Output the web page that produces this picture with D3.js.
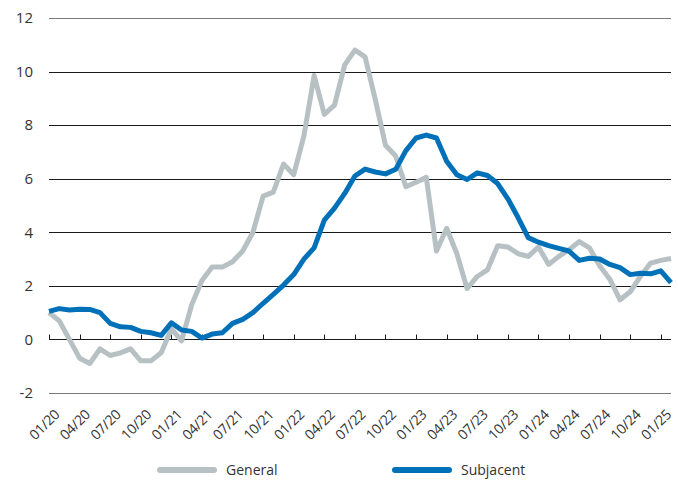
<!DOCTYPE html>
<html>
<head>
<meta charset="utf-8">
<script src="https://cdn.jsdelivr.net/npm/d3@7"></script>
<style>
  body { margin: 0; background: #fff; }
  svg text { font-family: "Open Sans", sans-serif; fill: #333; }
</style>
</head>
<body>
<div id="chart"></div>
<script>
// 1: DATA (monthly, 01/20 .. 02/25)
const months = [];
for (let y = 20; y <= 25; y++) {
    for (let m = 1; m <= 12; m++) {
        if (y === 25 && m > 2) break;
        months.push(String(m).padStart(2, "0") + "/" + y);
    }
}

const general = [
    1.0, 0.7, 0.0, -0.7, -0.9, -0.35, -0.6, -0.5, -0.35, -0.8, -0.8, -0.5,
    0.4, -0.05, 1.3, 2.2, 2.7, 2.7, 2.9, 3.3, 4.0, 5.35, 5.5, 6.55,
    6.15, 7.6, 9.85, 8.4, 8.75, 10.25, 10.8, 10.55, 8.95, 7.25, 6.85, 5.7,
    5.87, 6.05, 3.3, 4.15, 3.2, 1.9, 2.35, 2.6, 3.5, 3.45, 3.2, 3.1,
    3.45, 2.8, 3.1, 3.35, 3.65, 3.42, 2.75, 2.25, 1.48, 1.78, 2.35, 2.85,
    2.95, 3.02
];

const subjacent = [
    1.05, 1.15, 1.1, 1.13, 1.12, 1.0, 0.6, 0.47, 0.45, 0.3, 0.25, 0.15,
    0.62, 0.35, 0.3, 0.05, 0.2, 0.25, 0.6, 0.75, 1.0, 1.35, 1.68, 2.03,
    2.42, 3.0, 3.42, 4.45, 4.9, 5.45, 6.1, 6.36, 6.25, 6.18, 6.35, 7.05,
    7.52, 7.63, 7.52, 6.65, 6.15, 5.97, 6.22, 6.12, 5.82, 5.25, 4.55, 3.8,
    3.63, 3.5, 3.4, 3.3, 2.95, 3.03, 3.0, 2.8, 2.68, 2.42, 2.47, 2.45,
    2.56, 2.12
];

const yTicks = [-2, 0, 2, 4, 6, 8, 10, 12];

const series = [
    { name: "General", values: general, color: "#b7c0c3" },
    { name: "Subjacent", values: subjacent, color: "#0071b9" }
];

// 2: SIZES
const W = 678, H = 480;
const margin = { top: 18, right: 7, bottom: 87, left: 49 };
const width = W - margin.left - margin.right;
const height = H - margin.top - margin.bottom;

const svg = d3.select("#chart")
    .append("svg")
    .attr("width", W)
    .attr("height", H);

const g = svg.append("g")
    .attr("transform", `translate(${margin.left},${margin.top})`);

// 3: SCALES
const xScale = d3.scaleLinear()
    .domain([0, months.length - 1])
    .range([0, width]);

const yScale = d3.scaleLinear()
    .domain([-2, 12])
    .range([height, 0]);

// 4: GRID + Y LABELS
g.selectAll(".grid")
    .data(yTicks)
    .enter()
    .append("line")
    .attr("class", "grid")
    .attr("x1", 0)
    .attr("x2", width)
    .attr("y1", d => Math.round(yScale(d)) + 0.5)
    .attr("y2", d => Math.round(yScale(d)) + 0.5)
    .attr("stroke", d => (d === 12 || d === -2) ? "#7a7a7a" : "#1a1a1a")
    .attr("stroke-width", 1);

g.selectAll(".ylab")
    .data(yTicks)
    .enter()
    .append("text")
    .attr("class", "ylab")
    .attr("x", -16)
    .attr("y", d => yScale(d))
    .attr("dy", "0.35em")
    .attr("text-anchor", "end")
    .style("font-size", "15px")
    .text(d => d);

// 5: X TICKS ON ZERO LINE
const tickIdx = months.map((d, i) => i).filter(i => i % 3 === 0);
g.selectAll(".xtick")
    .data(tickIdx)
    .enter()
    .append("line")
    .attr("class", "xtick")
    .attr("x1", d => Math.round(xScale(d)) + 0.5)
    .attr("x2", d => Math.round(xScale(d)) + 0.5)
    .attr("y1", Math.round(yScale(0)) + 0.5)
    .attr("y2", Math.round(yScale(0)) - 4.5)
    .attr("stroke", "#1a1a1a")
    .attr("stroke-width", 1);

// X labels below the chart, rotated
g.selectAll(".xlab")
    .data(tickIdx)
    .enter()
    .append("text")
    .attr("class", "xlab")
    .attr("transform", d => `translate(${xScale(d) + 8},${height + 19}) rotate(-45)`)
    .attr("dy", "0.35em")
    .attr("text-anchor", "end")
    .style("font-size", "14px")
    .style("letter-spacing", "-0.3px")
    .text(d => months[d]);

// 6: LINES
const line = d3.line()
    .x((d, i) => xScale(i))
    .y(d => yScale(d));

g.selectAll(".line")
    .data(series)
    .enter()
    .append("path")
    .attr("class", "line")
    .attr("d", d => line(d.values))
    .attr("fill", "none")
    .attr("stroke", d => d.color)
    .attr("stroke-width", 5)
    .attr("stroke-linejoin", "round");

// 7: LEGEND
const legend = svg.selectAll(".legend")
    .data(series)
    .enter()
    .append("g")
    .attr("class", "legend")
    .attr("transform", (d, i) => `translate(${160 + i * 235}, 470)`);

legend.append("line")
    .attr("x1", 0)
    .attr("x2", 54)
    .attr("stroke", d => d.color)
    .attr("stroke-width", 6)
    .attr("stroke-linecap", "round");

legend.append("text")
    .attr("x", 66)
    .attr("dy", "0.35em")
    .style("font-size", "14px")
    .text(d => d.name);
</script>
</body>
</html>
